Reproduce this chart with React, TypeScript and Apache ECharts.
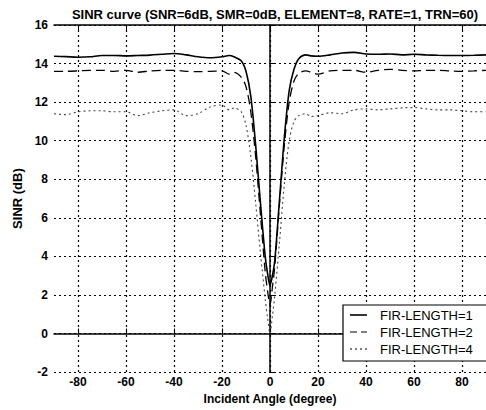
import React, { useEffect, useRef } from "react";
import * as echarts from "echarts";

const angles = [-90, -85, -80, -75, -70, -65, -60, -55, -50, -45, -40, -35, -30, -25, -20, -17, -15, -12, -10, -8, -6, -4, -2, -1, 0, 1, 2, 4, 6, 8, 10, 12, 15, 17, 20, 25, 30, 35, 40, 45, 50, 55, 60, 65, 70, 75, 80, 85, 90];

const fir1 = [14.38, 14.36, 14.33, 14.35, 14.42, 14.42, 14.4, 14.42, 14.44, 14.48, 14.52, 14.45, 14.35, 14.3, 14.35, 14.42, 14.35, 14.15, 13.6, 12.3, 9.8, 6.8, 4.0, 3.1, 2.5, 3.0, 3.8, 7.0, 10.2, 12.6, 13.7, 14.25, 14.45, 14.4, 14.38, 14.45, 14.55, 14.58, 14.5, 14.48, 14.5, 14.45, 14.48, 14.45, 14.43, 14.42, 14.42, 14.43, 14.45];

const fir2 = [13.6, 13.6, 13.62, 13.65, 13.65, 13.6, 13.65, 13.55, 13.62, 13.65, 13.65, 13.6, 13.58, 13.6, 13.62, 13.45, 13.55, 13.3, 12.8, 11.5, 9.2, 6.2, 3.2, 2.2, 1.5, 2.4, 3.5, 6.8, 9.8, 12.0, 13.1, 13.5, 13.62, 13.55, 13.45, 13.62, 13.65, 13.65, 13.55, 13.65, 13.7, 13.65, 13.62, 13.65, 13.65, 13.62, 13.6, 13.62, 13.65];

const fir4 = [11.4, 11.35, 11.5, 11.55, 11.55, 11.5, 11.5, 11.3, 11.45, 11.55, 11.6, 11.3, 11.4, 11.75, 11.85, 11.6, 11.7, 11.5, 10.8, 9.2, 6.8, 4.2, 1.8, 0.8, 0.0, 0.9, 2.0, 4.8, 7.8, 10.0, 11.0, 11.3, 11.4, 11.25, 11.3, 11.45, 11.4, 11.6, 11.65, 11.6, 11.65, 11.7, 11.72, 11.65, 11.6, 11.6, 11.55, 11.5, 11.5];

const xTicks = [-80, -60, -40, -20, 0, 20, 40, 60, 80];
const seriesNames = ["FIR-LENGTH=1", "FIR-LENGTH=2", "FIR-LENGTH=4"];

const FONT = "Liberation Sans, Arial, sans-serif";

export default function App() {
  const ref = useRef<HTMLDivElement>(null);
  useEffect(() => {
    const chart = echarts.init(ref.current!, null, { renderer: "svg" });
    const pairs = (vals: number[]) => angles.map((a, i) => [a, vals[i]]);
    const gridLine = { color: "#000", width: 1.2, type: [2, 3] as any };
    const legendLeft = 343;
    const legendTop = 305;
    const rowY = [315, 332, 349];
    const dashes: any[] = [null, [7, 4], [2, 3]];
    const tickFont = { fontFamily: FONT, fontSize: 12, fontWeight: "bold", color: "#000" };
    const option: any = {
      animation: false,
      backgroundColor: "#fff",
      title: {
        text: "SINR curve (SNR=6dB, SMR=0dB, ELEMENT=8, RATE=1, TRN=60)",
        left: 270,
        top: 3,
        textAlign: "center",
        textStyle: { fontFamily: FONT, fontSize: 13, fontWeight: "bold", color: "#000" },
      },
      grid: { left: 54, top: 25, width: 434, height: 348, containLabel: false },
      xAxis: [
        {
          type: "value",
          min: -90,
          max: 90,
          interval: 10,
          position: "bottom",
          name: "Incident Angle (degree)",
          nameLocation: "middle",
          nameGap: 17,
          nameTextStyle: { fontFamily: FONT, fontSize: 12, fontWeight: "bold", color: "#000" },
          axisLine: { show: true, lineStyle: { color: "#000", width: 1.5 } },
          axisTick: { show: true, inside: true, length: 5, customValues: xTicks, lineStyle: { color: "#000" } },
          axisLabel: { customValues: xTicks, margin: 4, ...tickFont },
          splitLine: { show: false },
        },
        {
          type: "value",
          min: -90,
          max: 90,
          interval: 10,
          position: "top",
          axisLine: { show: true, lineStyle: { color: "#000", width: 1.5 } },
          axisTick: { show: true, inside: true, length: 5, customValues: xTicks, lineStyle: { color: "#000" } },
          axisLabel: { show: false },
          splitLine: { show: false },
        },
      ],
      yAxis: {
        type: "value",
        min: -2,
        max: 16,
        interval: 2,
        name: "SINR (dB)",
        nameLocation: "middle",
        nameGap: 24,
        nameTextStyle: { fontFamily: FONT, fontSize: 13, fontWeight: "bold", color: "#000" },
        axisLine: { show: true, lineStyle: { color: "#000", width: 1.5 } },
        axisTick: { show: true, inside: true, length: 5, lineStyle: { color: "#000" } },
        axisLabel: { margin: 6, ...tickFont },
        splitLine: { show: true, lineStyle: gridLine },
      },
      series: [
        {
          name: seriesNames[0],
          type: "line",
          data: pairs(fir1),
          showSymbol: false,
          smooth: 0.3,
          lineStyle: { color: "#000", width: 1.6 },
          z: 5,
          markLine: {
            silent: true,
            symbol: "none",
            label: { show: false },
            lineStyle: gridLine,
            data: xTicks.map((v) => ({ xAxis: v })),
            z: 1,
          },
        },
        {
          name: seriesNames[1],
          type: "line",
          data: pairs(fir2),
          showSymbol: false,
          smooth: 0.3,
          lineStyle: { color: "#000", width: 1.3, type: [9, 5] },
          z: 4,
        },
        {
          name: seriesNames[2],
          type: "line",
          data: pairs(fir4),
          showSymbol: false,
          smooth: 0.3,
          lineStyle: { color: "#444", width: 1.1, type: [2, 3] },
          z: 3,
        },
      ],
      graphic: [
        {
          type: "rect",
          shape: { x: legendLeft, y: legendTop, width: 150, height: 56 },
          style: { fill: "#fff", stroke: "#000", lineWidth: 1.2 },
          z: 100,
        },
        ...seriesNames.flatMap((n, i) => [
          {
            type: "line",
            shape: { x1: 350, y1: rowY[i], x2: 367, y2: rowY[i] },
            style: { stroke: "#000", lineWidth: i === 0 ? 1.6 : 1.2, lineDash: dashes[i] },
            z: 101,
          },
          {
            type: "text",
            x: 380,
            y: rowY[i],
            style: { text: n, fontFamily: FONT, fontSize: 13, fill: "#000", verticalAlign: "middle" },
            z: 101,
          },
        ]),
      ],
    };
    chart.setOption(option);
    return () => chart.dispose();
  }, []);
  return <div ref={ref} style={{ position: "fixed", left: 0, top: 0, width: 486, height: 410 }} />;
}
